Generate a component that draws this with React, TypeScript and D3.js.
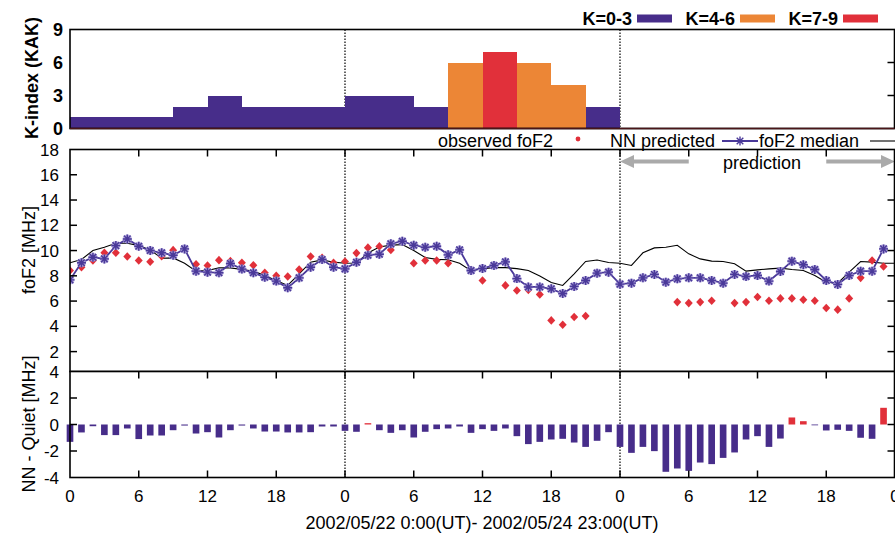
import React, { useEffect, useRef } from 'react';
import * as d3 from 'd3';

// K-index (KAK), 3-hourly, 2002/05/22 - 05/23 (no values on 05/24)
const kIndex = [1, 1, 1, 2, 3, 2, 2, 2, 3, 3, 2, 6, 7, 6, 4, 2];

// hourly foF2 [MHz], hour 0 .. 71 (null = no observation)
const observed = [
  8.42, 8.68, 9.21, 9.82, 9.82, 9.53, 9.21, 9.11, 9.55, 10.03, null, 8.92,
  8.82, 9.24, 9.16, 9.03, 8.84, 8.24, 8.0, 7.95, 8.5, 9.53, 9.42, 9.03,
  9.13, 9.8, 10.23, 10.33, 10.05, null, 9.0, 9.21, 9.21, 9.0, null, 8.45,
  7.63, null, 7.24, 6.84, 6.89, 6.53, 4.47, 4.13, 4.74, 4.82, null, null,
  null, null, null, null, null, 5.92, 5.84, 5.92, 6.03, null, 5.84, 5.92,
  6.32, 6.03, 6.21, 6.21, 6.11, 6.03, 5.45, 5.32, 6.21, 7.84, 9.21, 8.74,
];

const nnPredicted = [
  7.68, 9.03, 9.47, 9.34, 10.39, 10.92, 10.34, 10.0, 9.82, 9.63, 10.13, 8.37,
  8.29, 8.24, 8.97, 8.53, 8.24, 7.89, 7.58, 7.05, 7.84, 8.68, 9.29, 8.68,
  8.55, 9.07, 9.63, 9.71, 10.53, 10.74, 10.42, 10.26, 10.34, 9.66, 10.05, 8.42,
  8.58, 8.82, 9.1, 7.78, 7.12, 7.12, 6.97, 6.6, 7.16, 7.63, 8.21, 8.29,
  7.34, 7.42, 7.84, 8.11, 7.5, 7.76, 7.84, 7.84, 7.63, 7.42, 8.11, 7.95,
  8.03, 7.58, 8.34, 9.16, 8.87, 8.5, 7.63, 7.32, 8.03, 8.37, 8.37, 10.13,
];

// hour 0 .. 72
const median = [
  9.03, 9.29, 10.0, 10.26, 10.58, 10.58, 10.39, 10.05, 9.39, 9.42, 9.0, 8.37,
  8.42, 8.63, 8.63, 8.5, 8.37, 8.03, 7.63, 7.24, 8.16, 9.08, 9.26, 9.08,
  9.0, 9.02, 9.8, 10.28, 10.43, 10.47, 10.0, 9.45, 9.3, 9.27, 9.0, 8.4,
  8.57, 8.65, 8.65, 8.57, 8.42, 7.98, 7.47, 7.24, 8.16, 9.14, 9.25, 9.05,
  9.0, 8.82, 9.82, 10.21, 10.26, 10.42, 9.74, 9.34, 9.16, 9.13, 8.95, 8.37,
  8.47, 8.55, 8.61, 8.5, 8.42, 8.03, 7.5, 7.42, 8.29, 9.13, 9.08, 9.0,
  9.0,
];

// NN - Quiet [MHz], hour 0 .. 71
const nnMinusQuiet = [
  -1.31, -0.6, -0.13, -0.8, -0.8, -0.3, -1.1, -0.83, -0.83, -0.43, -0.08, -0.68,
  -0.58, -0.98, -0.43, -0.08, -0.3, -0.53, -0.53, -0.6, -0.6, -0.58, -0.15, -0.15,
  -0.48, -0.55, 0.1, -0.43, -0.63, -0.43, -0.98, -0.55, -0.35, -0.3, -0.15, -0.63,
  -0.35, -0.48, -0.3, -0.88, -1.48, -1.31, -1.13, -1.08, -1.36, -1.69, -1.23, -0.58,
  -1.69, -2.14, -1.69, -2.01, -3.57, -3.32, -3.5, -2.87, -2.99, -2.52, -2.11, -1.13,
  -0.88, -1.69, -1.06, 0.53, 0.25, -0.03, -0.45, -0.4, -0.48, -1.0, -1.08, 1.26,
];

const hourTicks = [0, 6, 12, 18, 24, 30, 36, 42, 48, 54, 60, 66, 72];
const dayStarts = [24, 48];
const kTicks = [0, 3, 6, 9];
const fTicks = [2, 4, 6, 8, 10, 12, 14, 16, 18];
const dTicks = [-4, -2, 0, 2, 4];
const kLegend = ['K=0-3', 'K=4-6', 'K=7-9'];

const PURPLE = '#472d8a';
const ORANGE = '#ec8636';
const RED = '#e1303a';
const NN = '#4a3999';
const FONT = '"Liberation Sans", Arial, Helvetica, sans-serif';

const kColor = (k: number) => (k <= 3 ? PURPLE : k <= 6 ? ORANGE : RED);

export default function App() {
  const ref = useRef<SVGSVGElement>(null);

  useEffect(() => {
    const svg = d3.select(ref.current);
    svg.selectAll('*').remove();

    const left = 70, right = 894.5;
    const x = d3.scaleLinear().domain([0, 72]).range([left, 895]);
    const yK = d3.scaleLinear().domain([0, 9]).range([128.5, 29.5]);
    const yF = d3.scaleLinear().domain([2, 18]).range([351.6, 149.5]);
    const yD = d3.scaleLinear().domain([-4, 4]).range([477.5, 371.5]);
    const fBottom = 371.5;
    const innerTicks = hourTicks.filter(h => h > 0 && h < 72);

    const frame = (top: number, bottom: number) => {
      svg.append('rect')
        .attr('x', left).attr('y', top)
        .attr('width', right - left).attr('height', bottom - top)
        .attr('fill', 'none').attr('stroke', '#000').attr('stroke-width', 1.6);
    };
    const dotted = (top: number, bottom: number) => {
      svg.append('g').selectAll('line').data(dayStarts).join('line')
        .attr('x1', d => x(d)).attr('x2', d => x(d))
        .attr('y1', top).attr('y2', bottom)
        .attr('stroke', '#000').attr('stroke-width', 1.2)
        .attr('stroke-dasharray', '1.5,1.5');
    };
    const hTicks = (y0: number, dir: number) => {
      svg.append('g').selectAll('line').data(innerTicks).join('line')
        .attr('x1', d => x(d)).attr('x2', d => x(d))
        .attr('y1', y0).attr('y2', y0 + dir * 7)
        .attr('stroke', '#000').attr('stroke-width', 1.5);
    };
    const vTicks = (vals: number[], y: (v: number) => number, sides: number[]) => {
      sides.forEach(s => {
        const x0 = s === 0 ? left : right;
        const dx = s === 0 ? 7 : -7;
        svg.append('g').selectAll('line').data(vals).join('line')
          .attr('x1', x0).attr('x2', x0 + dx)
          .attr('y1', d => y(d)).attr('y2', d => y(d))
          .attr('stroke', '#000').attr('stroke-width', 1.5);
      });
    };
    const yLabels = (vals: number[], y: (v: number) => number, xEnd: number, bold: boolean, size: number) => {
      svg.append('g').selectAll('text').data(vals).join('text')
        .attr('x', xEnd).attr('y', d => y(d)).attr('dy', '0.36em')
        .attr('text-anchor', 'end')
        .attr('font-family', FONT).attr('font-size', size)
        .attr('font-weight', bold ? 'bold' : 'normal')
        .text(d => String(d));
    };
    const yTitle = (label: string, xc: number, yc: number, bold: boolean) => {
      svg.append('text')
        .attr('transform', `translate(${xc},${yc}) rotate(-90)`)
        .attr('text-anchor', 'middle')
        .attr('font-family', FONT).attr('font-size', 18)
        .attr('font-weight', bold ? 'bold' : 'normal')
        .text(label);
    };

    // ---------- top panel: K-index ----------
    dotted(29.5, 128.5);
    svg.append('g').attr('shape-rendering', 'crispEdges')
      .selectAll('rect').data(kIndex).join('rect')
      .attr('x', (_, i) => Math.round(x(i * 3)))
      .attr('width', (_, i) => Math.round(x(i * 3 + 3)) - Math.round(x(i * 3)))
      .attr('y', d => Math.round(yK(d)))
      .attr('height', d => Math.round(yK(0)) - Math.round(yK(d)))
      .attr('fill', d => kColor(d));
    frame(29.5, 128.5);
    svg.append('line').attr('x1', left).attr('x2', right).attr('y1', 128.5).attr('y2', 128.5)
      .attr('stroke', '#4a1518').attr('stroke-width', 1.6);
    vTicks([3, 6], yK, [1]);
    yLabels(kTicks, yK, 63, true, 18);
    yTitle('K-index (KAK)', 38, 78, true);

    // top legend
    const legendK = svg.append('g');
    kLegend.forEach((lab, i) => {
      const xe = 632 + i * 103;
      legendK.append('text')
        .attr('x', xe).attr('y', 25)
        .attr('text-anchor', 'end')
        .attr('font-family', FONT).attr('font-size', 18).attr('font-weight', 'bold')
        .text(lab);
      legendK.append('rect')
        .attr('x', xe + 5).attr('y', 14.5).attr('width', 35).attr('height', 8)
        .attr('fill', [PURPLE, ORANGE, RED][i]);
    });

    // ---------- middle panel: foF2 ----------
    svg.append('rect').attr('x', left).attr('y', 149.5).attr('width', right - left)
      .attr('height', fBottom - 149.5).attr('fill', '#fff');
    dotted(149.5, fBottom);

    const clip = svg.append('defs').append('clipPath').attr('id', 'fclip');
    clip.append('rect').attr('x', left).attr('y', 149.5).attr('width', right - left).attr('height', fBottom - 149.5);
    const plot = svg.append('g').attr('clip-path', 'url(#fclip)');

    const medLine = d3.line<number>().x((_, i) => x(i)).y(d => yF(d));
    plot.append('path').datum(median)
      .attr('d', medLine).attr('fill', 'none')
      .attr('stroke', '#000').attr('stroke-width', 1.1);

    const diamond = 'M0,-4.3L4,0L0,4.3L-4,0Z';
    plot.append('g').selectAll('path')
      .data(observed.map((v, i) => ({ h: i, v })).filter(d => d.v != null))
      .join('path')
      .attr('transform', d => `translate(${x(d.h)},${yF(d.v as number)})`)
      .attr('d', diamond).attr('fill', RED);

    const nnLine = d3.line<number>().x((_, i) => x(i)).y(d => yF(d));
    plot.append('path').datum(nnPredicted)
      .attr('d', nnLine).attr('fill', 'none')
      .attr('stroke', NN).attr('stroke-width', 1.8);

    const s = 4.5, t = 3.3;
    const star = `M${-s},0L${s},0M0,${-s}L0,${s}M${-t},${-t}L${t},${t}M${-t},${t}L${t},${-t}`;
    const stars = plot.append('g').selectAll('g')
      .data(nnPredicted.map((v, i) => ({ h: i, v })))
      .join('g')
      .attr('transform', d => `translate(${x(d.h)},${yF(d.v)})`);
    stars.append('path').attr('d', star).attr('stroke', '#a69bd6').attr('stroke-width', 2.8).attr('fill', 'none');
    stars.append('path').attr('d', star).attr('stroke', NN).attr('stroke-width', 1.4).attr('fill', 'none');

    // prediction arrows
    const arrowY = yF(17.05);
    const arrows = svg.append('g').attr('fill', '#aaaaaa');
    const arrow = (from: number, to: number) => {
      const xa = x(from), xb = x(to);
      const dir = xb > xa ? 1 : -1;
      const headBase = xb - dir * 14;
      arrows.append('rect')
        .attr('x', Math.min(xa, headBase)).attr('y', arrowY - 2)
        .attr('width', Math.abs(headBase - xa)).attr('height', 4);
      arrows.append('path')
        .attr('d', `M${xb},${arrowY}L${headBase},${arrowY - 6.5}L${headBase},${arrowY + 6.5}Z`);
    };
    arrow(54, 48);
    arrow(66, 72);
    svg.append('text')
      .attr('x', x(60.4)).attr('y', 168.5)
      .attr('text-anchor', 'middle')
      .attr('font-family', FONT).attr('font-size', 18)
      .text('prediction');

    frame(149.5, fBottom);
    vTicks(fTicks.filter(v => v < 18), yF, [0, 1]);
    hTicks(149.5, 1);
    yLabels(fTicks, yF, 59, false, 17);
    yTitle('foF2 [MHz]', 35, 250, false);

    // middle legend
    const lg = svg.append('g').attr('font-family', FONT).attr('font-size', 18);
    lg.append('text').attr('x', 553).attr('y', 146.5).attr('text-anchor', 'end').text('observed foF2');
    lg.append('circle').attr('cx', 578).attr('cy', 139).attr('r', 2.4).attr('fill', RED);
    lg.append('text').attr('x', 715).attr('y', 146.5).attr('text-anchor', 'end').text('NN predicted');
    lg.append('line').attr('x1', 722).attr('x2', 758).attr('y1', 141).attr('y2', 141)
      .attr('stroke', NN).attr('stroke-width', 1.8);
    lg.append('g').attr('transform', 'translate(740,141)')
      .append('path').attr('d', star).attr('stroke', NN).attr('stroke-width', 1.4).attr('fill', 'none');
    lg.append('text').attr('x', 859).attr('y', 146.5).attr('text-anchor', 'end').text('foF2 median');
    lg.append('line').attr('x1', 870).attr('x2', 895).attr('y1', 141).attr('y2', 141)
      .attr('stroke', '#000').attr('stroke-width', 1.1);

    // ---------- bottom panel: NN - Quiet ----------
    svg.append('rect').attr('x', left).attr('y', 371.5).attr('width', right - left)
      .attr('height', 106).attr('fill', '#fff');
    dotted(371.5, 477.5);
    const bw = x(0.58) - x(0);
    svg.append('g').selectAll('rect').data(nnMinusQuiet).join('rect')
      .attr('x', (_, i) => x(i) - bw / 2)
      .attr('width', bw)
      .attr('y', d => Math.min(yD(d), yD(0)))
      .attr('height', d => Math.max(0.8, Math.abs(yD(d) - yD(0))))
      .attr('fill', d => (d > 0 ? RED : PURPLE));
    frame(371.5, 477.5);
    vTicks([-2, 0, 2], yD, [0, 1]);
    hTicks(371.5, 1);
    hTicks(477.5, -1);
    yLabels(dTicks, yD, 59, false, 17);
    yTitle('NN - Quiet [MHz]', 35, 424, false);

    // x axis labels
    svg.append('g').selectAll('text').data(hourTicks).join('text')
      .attr('x', d => x(d)).attr('y', 502)
      .attr('text-anchor', 'middle')
      .attr('font-family', FONT).attr('font-size', 17)
      .text(d => String(d % 24));
    svg.append('text')
      .attr('x', 482).attr('y', 528.5)
      .attr('text-anchor', 'middle')
      .attr('font-family', FONT).attr('font-size', 18)
      .text('2002/05/22 0:00(UT)- 2002/05/24 23:00(UT)');
  }, []);

  return (
    <svg
      ref={ref}
      width={895}
      height={535}
      style={{ position: 'absolute', left: 0, top: 0, background: '#fff' }}
    />
  );
}
